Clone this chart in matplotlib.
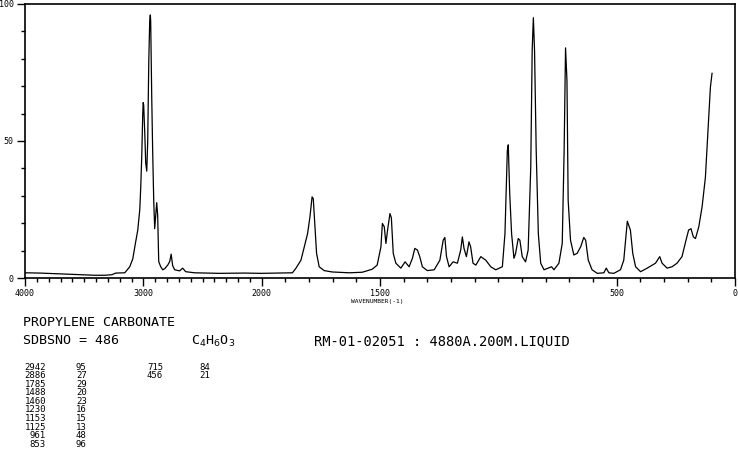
import numpy as np
import matplotlib
matplotlib.use("Agg")
import matplotlib.pyplot as plt
from matplotlib.ticker import FixedLocator, FixedFormatter

# Raman spectrum (wavenumber cm-1, relative intensity)
wavenumber = [4000, 3874, 3705, 3536, 3410, 3325, 3266, 3233, 3157, 3115,
              3089, 3072, 3047, 3030, 3022, 3013, 3005, 3001, 2997, 2988,
              2980, 2971, 2963, 2954, 2946, 2941, 2938, 2929, 2921, 2912,
              2904, 2895, 2887, 2879, 2870, 2853, 2836, 2819, 2794, 2777,
              2765, 2752, 2735, 2693, 2668, 2642, 2567, 2356, 2145, 2002,
              1925, 1870, 1855, 1834, 1820, 1806, 1796, 1787, 1782, 1775,
              1768, 1757, 1736, 1702, 1630, 1575, 1533, 1512, 1496, 1490,
              1482, 1475, 1468, 1458, 1452, 1444, 1433, 1412, 1394, 1377,
              1363, 1353, 1342, 1332, 1321, 1300, 1271, 1247, 1233, 1226,
              1219, 1208, 1191, 1173, 1159, 1152, 1145, 1135, 1124, 1117,
              1107, 1095, 1074, 1053, 1032, 1011, 983, 972, 962, 958,
              952, 944, 934, 927, 916, 909, 899, 885, 874, 863,
              857, 852, 847, 840, 831, 821, 807, 789, 775, 765,
              744, 730, 722, 716, 710, 705, 695, 681, 667, 652,
              639, 631, 620, 604, 582, 554, 544, 533, 512, 484,
              470, 460, 455, 442, 432, 420, 399, 371, 350, 336,
              318, 308, 287, 266, 245, 224, 207, 196, 186, 176,
              167, 153, 139, 125, 118, 111, 104, 97]
intensity = [1.9, 1.8, 1.5, 1.2, 1.0, 1.0, 1.2, 1.8, 1.9, 4.1,
             7.0, 11.4, 17.5, 25.0, 33.0, 45.0, 60.0, 64.0, 63.0, 53.0,
             42.0, 39.0, 50.0, 79.0, 94.0, 96.0, 94.0, 66.0, 46.0, 28.0,
             18.0, 23.0, 27.5, 23.0, 6.0, 4.1, 3.0, 3.4, 4.7, 6.0,
             8.7, 4.5, 3.0, 2.6, 3.6, 2.3, 1.9, 1.7, 1.8, 1.7,
             1.8, 1.9, 3.6, 6.5, 11.4, 16.2, 22.3, 29.6, 29.0, 18.7,
             9.0, 4.1, 2.7, 2.2, 1.9, 2.1, 3.2, 4.7, 11.4, 19.9,
             18.7, 12.6, 17.5, 23.5, 22.0, 9.0, 5.4, 3.6, 5.9, 4.1,
             7.2, 10.8, 10.2, 7.8, 4.1, 2.7, 3.0, 6.5, 13.8, 14.8,
             7.8, 4.1, 5.9, 5.4, 10.2, 15.0, 10.8, 7.8, 13.2, 11.4,
             5.4, 4.7, 7.8, 6.5, 4.1, 3.0, 4.1, 16.2, 46.5, 48.6,
             31.0, 16.2, 7.2, 9.0, 14.4, 13.8, 7.8, 5.9, 10.2, 40.5,
             83.0, 95.0, 83.0, 46.5, 16.2, 5.4, 3.0, 3.6, 4.1, 3.0,
             5.4, 12.6, 46.5, 84.0, 72.0, 28.4, 13.8, 8.4, 9.0, 11.4,
             14.8, 13.8, 6.5, 3.0, 1.7, 1.9, 3.6, 1.9, 1.7, 3.0,
             6.5, 16.2, 20.7, 17.5, 9.0, 4.1, 2.3, 3.6, 4.7, 5.4,
             7.8, 5.4, 3.6, 4.1, 5.4, 7.8, 13.8, 17.5, 18.0, 15.0,
             14.4, 18.7, 26.0, 36.8, 47.8, 59.0, 69.6, 74.7]

x_major = [4000, 3000, 2000, 1500, 500, 0]
x_major_labels = ["4000", "3000", "2000", "1500", "500", "0"]
y_major = [0, 50, 100]

# peak table
peak_wn_1 = ["2942", "2886", "1785", "1488", "1460", "1230", "1153", "1125", "961", "853"]
peak_int_1 = ["95", "27", "29", "20", "23", "16", "15", "13", "48", "96"]
peak_wn_2 = ["715", "456"]
peak_int_2 = ["84", "21"]

compound = "PROPYLENE CARBONATE"
sdbs_no = "SDBSNO = 486"
formula = r"C$_4$H$_6$O$_3$"
conditions = "RM-01-02051 : 4880A.200M.LIQUID"


def fwd(w):
    w = np.asarray(w, dtype=float)
    return np.where(w > 2000, 2000 + (w - 2000) / 2.0, w)


def inv(u):
    u = np.asarray(u, dtype=float)
    return np.where(u > 2000, 2000 + (u - 2000) * 2.0, u)


W, H = 738, 457
mono = "DejaVu Sans Mono"
fig = plt.figure(figsize=(W / 100, H / 100), dpi=100)
ax = fig.add_axes([25 / W, (H - 278) / H, 710 / W, 274 / H])

ax.plot(wavenumber, intensity, color="black", lw=0.9)
ax.set_xscale("function", functions=(fwd, inv))
ax.set_xlim(4000, 0)
ax.set_ylim(0, 100)

ax.xaxis.set_major_locator(FixedLocator(x_major))
ax.xaxis.set_major_formatter(FixedFormatter(x_major_labels))
ax.xaxis.set_minor_locator(FixedLocator(list(range(0, 4001, 100))))
ax.yaxis.set_major_locator(FixedLocator(y_major))
ax.yaxis.set_minor_locator(FixedLocator(list(range(0, 101, 10))))

for s in ax.spines.values():
    s.set_linewidth(1.2)
ax.tick_params(which="major", direction="out", length=6, width=1.0,
               labelsize=6, pad=2)
ax.tick_params(which="minor", direction="out", length=3, width=1.0)
for lab in ax.get_xticklabels() + ax.get_yticklabels():
    lab.set_family(mono)

fig.text(377 / W, 1 - 301 / H, "WAVENUMBER(-1)", fontsize=4.5,
         family=mono, ha="center", va="center")

fig.text(23 / W, 1 - 323 / H, compound, fontsize=9.6, family=mono, va="center")
fig.text(23 / W, 1 - 341 / H, sdbs_no, fontsize=9.6, family=mono, va="center")
fig.text(191 / W, 1 - 341 / H, formula, fontsize=9.6, family=mono, va="center")
fig.text(314 / W, 1 - 341 / H, conditions, fontsize=9.9, family=mono, va="center")

row0, step = 367, 8.6
for i, (wn, it) in enumerate(zip(peak_wn_1, peak_int_1)):
    y = 1 - (row0 + i * step) / H
    fig.text(46 / W, y, wn, fontsize=6.5, family=mono, ha="right", va="center")
    fig.text(76 / W, y, it, fontsize=6.5, family=mono, va="center")
for i, (wn, it) in enumerate(zip(peak_wn_2, peak_int_2)):
    y = 1 - (row0 + i * step) / H
    fig.text(163 / W, y, wn, fontsize=6.5, family=mono, ha="right", va="center")
    fig.text(199 / W, y, it, fontsize=6.5, family=mono, va="center")

fig.savefig("out.png", dpi=100)
